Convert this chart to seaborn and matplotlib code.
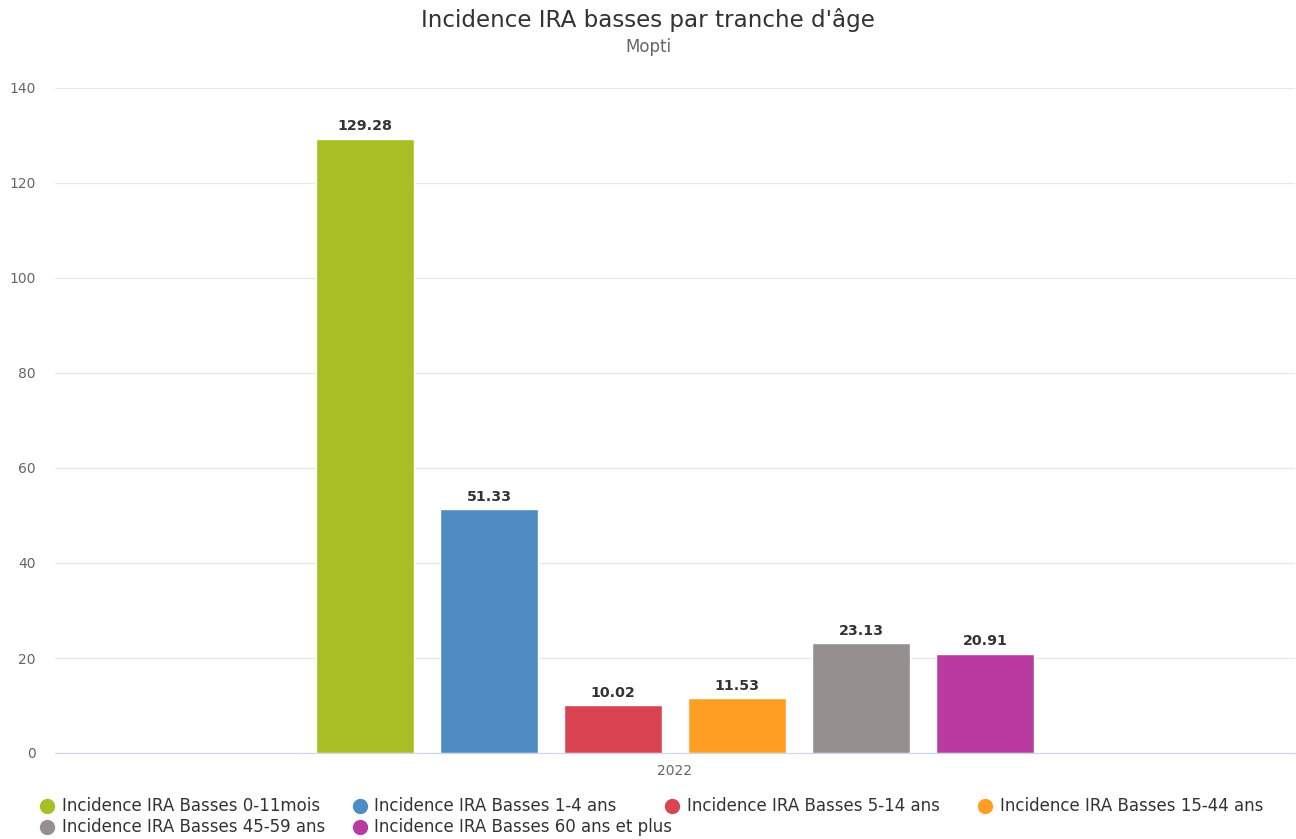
import pandas as pd
import seaborn as sns
import matplotlib.pyplot as plt
from matplotlib.lines import Line2D

# data
years = ["2022"] * 6
series = ["Incidence IRA Basses 0-11mois", "Incidence IRA Basses 1-4 ans",
          "Incidence IRA Basses 5-14 ans", "Incidence IRA Basses 15-44 ans",
          "Incidence IRA Basses 45-59 ans", "Incidence IRA Basses 60 ans et plus"]
values = [129.28, 51.33, 10.02, 11.53, 23.13, 20.91]
colors = ["#a8bf23", "#508cc4", "#d94452", "#fe9f24", "#958f8f", "#b93ba2"]
yticks = [0, 20, 40, 60, 80, 100, 120, 140]

df = pd.DataFrame({"year": years, "serie": series, "value": values})

sns.set_style("white")
plt.rcParams["font.family"] = ["DejaVu Sans"]

W, H = 1296, 839
fig = plt.figure(figsize=(W / 100, H / 100), dpi=100)
ax = fig.add_axes([55 / W, 86 / H, 1240 / W, 665 / H])

sns.barplot(data=df, x="year", y="value", hue="serie", palette=colors,
            width=0.6, gap=0.21, ax=ax, legend=False, saturation=1)

# value labels
for cont in ax.containers:
    ax.bar_label(cont, fmt="%.2f", padding=4, fontsize=10.3, fontweight="bold", color="#333333")

ax.set_ylim(0, 140)
ax.set_xlim(-0.5, 0.5)
ax.set_yticks(yticks)
ax.yaxis.grid(True, color="#e6e6e6", linewidth=0.8)
ax.set_axisbelow(True)
for s in ["top", "right", "left"]:
    ax.spines[s].set_visible(False)
ax.spines["bottom"].set_color("#ccd6eb")
ax.tick_params(axis="y", length=0, pad=14, labelsize=10, labelcolor="#666666")
ax.tick_params(axis="x", length=0, pad=8, labelsize=10, labelcolor="#666666")
ax.set_xlabel("")
ax.set_ylabel("")

fig.text(0.5, 1 - 20 / H, "Incidence IRA basses par tranche d'âge", ha="center", va="center",
         fontsize=16.6, color="#333333")
fig.text(0.5, 1 - 47 / H, "Mopti", ha="center", va="center", fontsize=12, color="#666666")

# legend: fixed-width items, 4 per row
for i, (lab, c) in enumerate(zip(series, colors)):
    col, row = i % 4, i // 4
    x = (47 + col * 312.5) / W
    y = 1 - (806 + row * 21) / H
    fig.add_artist(Line2D([x], [y], marker="o", linestyle="", markersize=10,
                          markerfacecolor=c, markeredgecolor=c, transform=fig.transFigure))
    fig.text(x + 15 / W, y, lab, ha="left", va="center", fontsize=12, color="#333333")

fig.savefig("out.png", dpi=100)
